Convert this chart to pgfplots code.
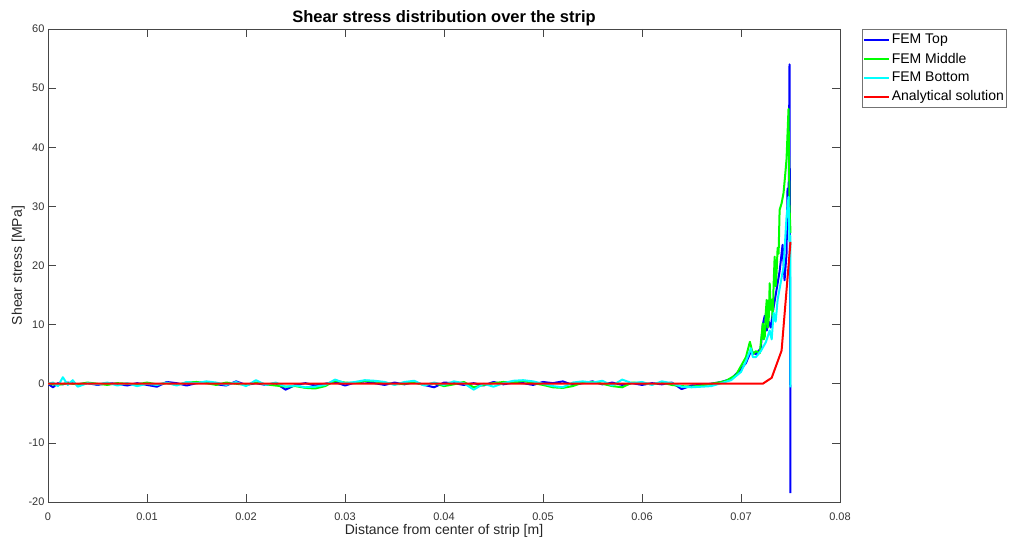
\documentclass[border=0pt]{standalone}
\usepackage{fontspec}
\setmainfont{Liberation Sans}
\usepackage{pgfplots}
\pgfplotsset{compat=1.18}
\definecolor{mblue}{RGB}{0,0,255}
\definecolor{mgreen}{RGB}{0,255,0}
\definecolor{mcyan}{RGB}{0,255,255}
\definecolor{mred}{RGB}{255,0,0}
\definecolor{axgray}{RGB}{70,70,70}
\begin{document}
\begin{tikzpicture}
\begin{axis}[
  name=ax,
  scale only axis,
  width=792pt, height=473pt,
  xmin=0, xmax=0.08, ymin=-20, ymax=60,
  xtick={0,0.01,...,0.08},
  ytick={-20,-10,...,60},
  scaled x ticks=false,
  xticklabel style={/pgf/number format/fixed,/pgf/number format/precision=2, yshift=-7pt},
  /pgf/number format/assume math mode=true,
  tick label style={font=\fontsize{11}{13}\selectfont, text=black!80},
  tick align=inside,
  major tick length=8pt,
  tick style={axgray, line width=0.6pt},
  axis line style={axgray, line width=0.8pt},
  xtick pos=both, ytick pos=both,
  title={\bfseries Shear stress distribution over the strip},
  title style={font=\fontsize{16.5}{19}\selectfont, yshift=-6pt},
  xlabel={Distance from center of strip [m]},
  ylabel={Shear stress [MPa]},
  label style={font=\fontsize{14}{16}\selectfont, text=black!85},
  xlabel style={yshift=3pt},
  ylabel style={yshift=-3pt},
  legend style={at={(1,1)}, anchor=north west, xshift=22pt,
    draw=black!55, line width=0.6pt, font=\fontsize{14}{16}\selectfont,
    row sep=3.5pt, inner xsep=0.5pt, inner ysep=3pt},
  legend cell align=left,
  legend image code/.code={\draw[#1] (0pt,0pt) -- (25pt,0pt);},
  every axis plot/.append style={line width=2pt, line join=round},
]
\addplot[mblue] coordinates {
(0,0) (0.0005,-0.6) (0.001,0.1) (0.0015,-0.1) (0.002,0.2) (0.003,-0.1)
(0.004,0.1) (0.005,-0.2) (0.006,0.1) (0.007,0.0) (0.008,-0.3) (0.009,0.1)
(0.010,-0.2) (0.011,-0.5) (0.012,0.3) (0.013,0.1) (0.014,-0.3) (0.015,0.1)
(0.016,0.3) (0.017,-0.1) (0.018,-0.3) (0.019,0.4) (0.020,-0.2) (0.021,0.1)
(0.022,-0.2) (0.023,0.1) (0.024,-1.0) (0.025,-0.2) (0.026,0.1) (0.027,-0.3)
(0.028,0.0) (0.029,0.3) (0.030,-0.3) (0.031,0.2) (0.032,0.4) (0.033,0.1)
(0.034,-0.2) (0.035,0.2) (0.036,-0.1) (0.037,0.3) (0.038,-0.2) (0.039,-0.6)
(0.040,0.2) (0.041,0.1) (0.042,-0.2) (0.043,0.1) (0.044,-0.3) (0.045,0.3)
(0.046,-0.1) (0.047,0.2) (0.048,0.1) (0.049,-0.2) (0.050,0.3) (0.051,0.1)
(0.052,0.4) (0.053,-0.2) (0.054,0.1) (0.055,0.4) (0.056,-0.1) (0.057,0.2)
(0.058,-0.2) (0.059,0.1) (0.060,-0.2) (0.061,0.1) (0.062,-0.1) (0.063,0.2)
(0.064,-0.9) (0.065,-0.3) (0.066,-0.2) (0.067,0.0) (0.068,0.3) (0.069,0.8)
(0.070,2.5) (0.0705,3.5) (0.071,5.5) (0.0715,5.0) (0.072,6.0) (0.0722,10.0)
(0.0724,11.5) (0.0726,9.0) (0.0728,10.5) (0.073,9.5) (0.0733,13.0) (0.0736,16.0)
(0.0739,19.0) (0.0742,23.5) (0.0744,17.5) (0.0746,22.0) (0.0747,33.0)
(0.0748,28.0) (0.0749,54.0) (0.0750,-18.5)
};
\addlegendentry{FEM Top}
\addplot[mgreen] coordinates {
(0,0) (0.001,-0.2) (0.002,0.1) (0.003,-0.1) (0.004,0.2) (0.005,0.0)
(0.006,-0.2) (0.007,0.1) (0.008,0.0) (0.009,-0.1) (0.010,0.2) (0.011,-0.1)
(0.012,0.1) (0.013,-0.2) (0.014,0.2) (0.015,0.3) (0.016,0.1) (0.017,-0.2)
(0.018,0.2) (0.019,0.0) (0.020,-0.2) (0.021,0.2) (0.022,-0.1) (0.023,-0.3)
(0.024,-0.5) (0.025,-0.4) (0.026,-0.7) (0.027,-0.8) (0.028,-0.4) (0.029,0.5)
(0.030,0.2) (0.031,0.1) (0.032,0.5) (0.033,0.4) (0.034,0.2) (0.035,-0.1)
(0.036,0.0) (0.037,0.2) (0.038,-0.2) (0.039,0.1) (0.040,-0.4) (0.041,-0.1)
(0.042,0.3) (0.043,-0.6) (0.044,-0.2) (0.045,0.1) (0.046,0.3) (0.047,0.2)
(0.048,0.5) (0.049,0.1) (0.050,-0.2) (0.051,-0.6) (0.052,-0.7) (0.053,-0.4)
(0.054,0.2) (0.055,0.3) (0.056,0.0) (0.057,-0.4) (0.058,-0.6) (0.059,0.2)
(0.060,0.1) (0.061,-0.1) (0.062,0.2) (0.063,-0.2) (0.064,-0.4) (0.065,-0.5)
(0.066,-0.3) (0.067,0.0) (0.068,0.3) (0.0685,0.5) (0.069,1.0) (0.0695,1.5)
(0.070,3.0) (0.0705,4.5) (0.0709,7.1) (0.0712,5.0) (0.0715,5.5) (0.0719,5.2)
(0.0721,8.5) (0.0722,10.2) (0.0723,7.5) (0.0724,8.0) (0.0725,12.0)
(0.0726,14.2) (0.0727,9.5) (0.0728,11.0) (0.0729,17.0) (0.0730,12.5)
(0.0731,14.2) (0.0732,11.0) (0.0733,17.0) (0.0734,21.5) (0.0735,16.5)
(0.0736,19.0) (0.0737,23.0) (0.0738,22.0) (0.0739,29.4) (0.0741,30.5)
(0.0743,32.3) (0.0745,36.0) (0.0746,38.0) (0.0748,46.5) (0.0749,30.0)
(0.0750,25.5)
};
\addlegendentry{FEM Middle}
\addplot[mcyan] coordinates {
(0,0) (0.0005,0.2) (0.001,-0.4) (0.0015,1.1) (0.002,-0.2) (0.0025,0.6)
(0.003,-0.5) (0.004,0.1) (0.005,-0.1) (0.006,0.2) (0.007,-0.3) (0.008,0.1)
(0.009,-0.4) (0.010,0.0) (0.011,-0.2) (0.012,0.2) (0.013,-0.3) (0.014,0.3)
(0.015,0.1) (0.016,0.4) (0.017,0.2) (0.018,-0.2) (0.019,0.3) (0.020,-0.4)
(0.021,0.6) (0.022,-0.2) (0.023,0.2) (0.024,-0.5) (0.025,-0.3) (0.026,-0.6)
(0.027,-0.5) (0.028,-0.2) (0.029,0.7) (0.030,0.1) (0.031,0.3) (0.032,0.6)
(0.033,0.5) (0.034,0.3) (0.035,-0.2) (0.036,0.3) (0.037,0.5) (0.038,-0.3)
(0.039,0.2) (0.040,-0.2) (0.041,0.4) (0.042,0.1) (0.043,-1.0) (0.044,0.0)
(0.045,-0.5) (0.046,0.1) (0.047,0.5) (0.048,0.6) (0.049,0.4) (0.050,0.0)
(0.051,-0.4) (0.052,-0.6) (0.053,0.2) (0.054,0.4) (0.055,0.2) (0.056,0.5)
(0.057,-0.3) (0.058,0.7) (0.059,0.1) (0.060,0.3) (0.061,-0.2) (0.062,0.4)
(0.063,0.1) (0.064,-0.5) (0.065,-0.6) (0.066,-0.5) (0.067,-0.4) (0.068,0.1)
(0.069,0.6) (0.070,2.0) (0.0705,3.8) (0.071,6.0) (0.0712,4.5) (0.0715,4.5)
(0.072,5.5) (0.0725,7.0) (0.0729,9.0) (0.0731,7.5) (0.0733,12.0) (0.0735,10.5)
(0.0737,14.2) (0.0740,17.0) (0.0743,19.8) (0.0746,28.2) (0.0748,31.6)
(0.0749,24.0) (0.0750,25.0) (0.0750,-0.6)
};
\addlegendentry{FEM Bottom}
\addplot[mred] coordinates {
(0,0) (0.0722,0) (0.0731,1.0) (0.0741,5.6) (0.0750,24.0)
};
\addlegendentry{Analytical solution}
\end{axis}
\pgfresetboundingbox
\path[use as bounding box] ([shift={(-48pt,-38pt)}]ax.south west) rectangle ++(1010pt,540pt);
\end{tikzpicture}
\end{document}
